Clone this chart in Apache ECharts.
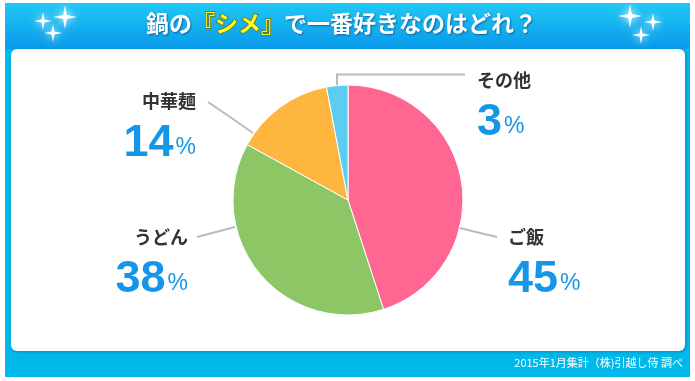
<!DOCTYPE html>
<html>
<head>
<meta charset="utf-8">
<script src="https://cdn.jsdelivr.net/npm/echarts@6/dist/echarts.min.js"></script>
<style>
html,body{margin:0;padding:0;background:#fff;}
#chart{width:695px;height:381px;}
</style>
</head>
<body>
<div id="chart"></div>
<script>
// ---- data ----
const categories = ['ご飯', 'うどん', '中華麺', 'その他'];
const values = [45, 38, 14, 3];
const colors = ['#ff6692', '#8dc665', '#ffb63f', '#5bcdf0'];
const titleParts = ['鍋の', '『シメ』', 'で一番好きなのはどれ？'];
const footnote = '2015年1月集計（株)引越し侍 調べ';

// ---- layout (annotation positions) ----
const labelPos = [
  {x: 508, y: 222, align: 'left',  line: [[460, 228], [478, 232.5], [497, 237]]},
  {x: 188, y: 222, align: 'right', line: [[235, 227], [216, 232], [197, 237]]},
  {x: 196, y: 86,  align: 'right', line: [[253, 133], [230, 117], [208, 102]]},
  {x: 477, y: 65,  align: 'left',  line: [[337, 86], [337, 74.5], [465, 74.5]]}
];

function star(cx, cy, r) {
  const w = r * 0.16;
  return {
    type: 'polygon',
    shape: {points: [[cx, cy - r], [cx + w, cy - w], [cx + r, cy], [cx + w, cy + w],
                     [cx, cy + r], [cx - w, cy + w], [cx - r, cy], [cx - w, cy - w]]},
    style: {fill: '#ffffff', shadowBlur: 8, shadowColor: 'rgba(255,255,255,1)'},
    z: 5
  };
}

const chart = echarts.init(document.getElementById('chart'), null, {renderer: 'canvas'});
const option = {
  backgroundColor: '#ffffff',
  animation: false,
  textStyle: {fontFamily: '"Noto Sans CJK JP", "Liberation Sans", sans-serif'},
  graphic: [
    {type: 'rect', shape: {x: 5, y: 3, width: 685, height: 374}, style: {fill: '#00b8ea'}, z: 0},
    {type: 'rect', shape: {x: 5, y: 3, width: 685, height: 46},
     style: {fill: new echarts.graphic.LinearGradient(0, 0, 0, 1, [
       {offset: 0, color: '#20c8f4'}, {offset: 1, color: '#0899ea'}])}, z: 1},
    {type: 'rect', shape: {x: 11, y: 49, width: 674, height: 302, r: 6},
     style: {fill: '#ffffff', shadowBlur: 3, shadowColor: 'rgba(0,60,100,0.35)', shadowOffsetX: 1, shadowOffsetY: 1}, z: 2},
    star(65, 17, 12), star(43, 21, 9), star(53, 33, 9),
    star(630, 16, 12), star(653, 22, 9), star(641, 35, 9),
    {type: 'text', left: 353 - 207, top: 11, z: 6,
     style: {
       text: '{w|' + titleParts[0] + '}{y|' + titleParts[1] + '}{w|' + titleParts[2] + '}',
       rich: {
         w: {fontSize: 23, fontWeight: 'bold', fill: '#ffffff', fontFamily: '"Noto Sans CJK JP", sans-serif',
             textShadowColor: 'rgba(0,40,90,0.55)', textShadowBlur: 2, textShadowOffsetX: 1, textShadowOffsetY: 1},
         y: {fontSize: 23, fontWeight: 'bold', fill: '#ffff1a', fontFamily: '"Noto Sans CJK JP", sans-serif',
             stroke: '#6b6b20', lineWidth: 1.5}
       }
     }},
    {type: 'text', right: 12, top: 357, z: 6,
     style: {text: footnote, fill: '#ffffff', fontSize: 11, fontFamily: '"Noto Sans CJK JP", sans-serif'}}
  ],
  series: [{
    type: 'pie',
    center: [348, 200],
    radius: 115,
    startAngle: 90,
    clockwise: true,
    z: 3,
    itemStyle: {borderColor: '#ffffff', borderWidth: 1},
    data: categories.map((c, i) => ({name: c, value: values[i], itemStyle: {color: colors[i]}})),
    label: {
      show: true,
      position: 'outside',
      formatter: p => '{n|' + p.name + '}\n{v|' + p.value + '}{p|%}',
      rich: {
        n: {fontSize: 18, fontWeight: 'bold', color: '#333333', lineHeight: 30, fontFamily: '"Noto Sans CJK JP", sans-serif'},
        v: {fontSize: 45, fontWeight: 'bold', color: '#1696e8', lineHeight: 56, fontFamily: 'Arial, "Liberation Sans", sans-serif'},
        p: {fontSize: 23, color: '#1696e8', lineHeight: 48, padding: [8, 0, 0, 2], fontFamily: 'Arial, "Liberation Sans", sans-serif'}
      }
    },
    labelLine: {show: true, lineStyle: {color: '#bbbbbb', width: 2}},
    labelLayout: function (params) {
      const L = labelPos[params.dataIndex];
      return {x: L.x, y: L.y, align: L.align, verticalAlign: 'top', labelLinePoints: L.line};
    },
    emphasis: {disabled: true}
  }]
};
chart.setOption(option);
</script>
</body>
</html>
